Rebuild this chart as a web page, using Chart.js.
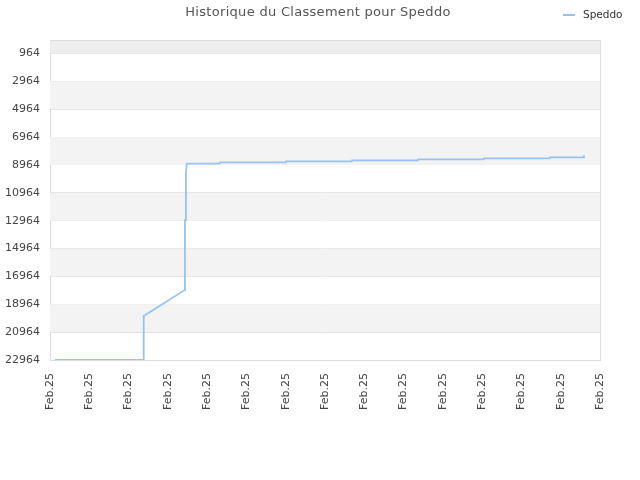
<!DOCTYPE html>
<html>
<head>
<meta charset="utf-8">
<title>Historique du Classement pour Speddo</title>
<script src="https://cdn.jsdelivr.net/npm/chart.js@4"></script>
<style>
  html, body { margin: 0; padding: 0; background: #fff; }
  #wrap { width: 640px; height: 480px; }
</style>
</head>
<body>
<div id="wrap"><canvas id="chartRank" width="640" height="480"></canvas></div>
<script>
// x tick labels (one per day slot)
var xLabels = ['Feb.25', 'Feb.25', 'Feb.25', 'Feb.25', 'Feb.25', 'Feb.25', 'Feb.25', 'Feb.25',
               'Feb.25', 'Feb.25', 'Feb.25', 'Feb.25', 'Feb.25', 'Feb.25', 'Feb.25'];
// y tick values (rank, reversed axis)
var yTicks = [964, 2964, 4964, 6964, 8964, 10964, 12964, 14964, 16964, 18964, 20964, 22964];
// series: position along the x slots, and rank
var seriesX = [0.13, 2.38, 2.385, 3.43, 3.435, 3.455, 3.46, 3.48, 4.32, 4.33, 6.0, 6.01,
               7.68, 7.69, 9.36, 9.37, 11.04, 11.05, 12.72, 12.73, 13.58, 13.59];
var seriesRank = [22964, 22964, 19810, 17947, 12930, 12930, 9560, 8871, 8871, 8777, 8777, 8706,
                  8706, 8634, 8634, 8563, 8563, 8491, 8491, 8419, 8419, 8276];
var seriesName = 'Speddo';
var lineColor = '#96c3f1';

var points = seriesX.map(function (x, i) { return { x: x, y: seriesRank[i] }; });

// alternating horizontal bands behind the line, frame, title and legend
var bandsPlugin = {
    id: 'bands',
    beforeDraw: function (chart) {
        var ctx = chart.ctx;
        ctx.save();
        ctx.fillStyle = '#ffffff';
        ctx.fillRect(0, 0, chart.width, chart.height);
        ctx.restore();
    },
    beforeDatasetsDraw: function (chart) {
        var ctx = chart.ctx, area = chart.chartArea, y = chart.scales.y;
        ctx.save();
        var firstPx = y.getPixelForValue(yTicks[0]);
        ctx.fillStyle = '#eeeeee';
        ctx.fillRect(area.left, area.top, area.right - area.left, firstPx - area.top);
        for (var k = 0; k < yTicks.length - 1; k++) {
            if (k % 2 === 1) {
                var a = y.getPixelForValue(yTicks[k]);
                var b = y.getPixelForValue(yTicks[k + 1]);
                ctx.fillStyle = '#f3f3f3';
                ctx.fillRect(area.left, a, area.right - area.left, b - a);
            }
        }
        ctx.restore();
    },
    afterDraw: function (chart) {
        var ctx = chart.ctx, area = chart.chartArea;
        ctx.save();
        // frame top/right
        ctx.strokeStyle = '#dddddd';
        ctx.lineWidth = 1;
        ctx.beginPath();
        ctx.moveTo(area.left, area.top + 0.5);
        ctx.lineTo(area.right + 0.5, area.top + 0.5);
        ctx.lineTo(area.right + 0.5, area.bottom);
        ctx.stroke();
        // title
        ctx.fillStyle = '#555555';
        ctx.font = '13px "DejaVu Sans"';
        ctx.letterSpacing = '0.3px';
        ctx.textAlign = 'center';
        ctx.textBaseline = 'middle';
        ctx.fillText('Historique du Classement pour Speddo', 318, 12.5);
        // legend
        ctx.letterSpacing = '0px';
        ctx.strokeStyle = lineColor;
        ctx.lineWidth = 2;
        ctx.beginPath();
        ctx.moveTo(563, 15);
        ctx.lineTo(575, 15);
        ctx.stroke();
        ctx.fillStyle = '#333333';
        ctx.font = '10.5px "DejaVu Sans"';
        ctx.textAlign = 'left';
        ctx.fillText(seriesName, 583, 15);
        ctx.restore();
    }
};

var ctx = document.getElementById('chartRank');
new Chart(ctx, {
    type: 'line',
    data: {
        datasets: [{
            label: seriesName,
            data: points,
            borderColor: lineColor,
            backgroundColor: lineColor,
            borderWidth: 1.8,
            pointRadius: 0,
            tension: 0,
            fill: false
        }]
    },
    options: {
        responsive: false,
        animation: false,
        layout: { padding: { top: 40, right: 40, left: 0, bottom: 0 } },
        plugins: {
            legend: { display: false },
            title: { display: false },
            tooltip: { enabled: false }
        },
        scales: {
            x: {
                type: 'linear',
                min: 0,
                max: xLabels.length - 1,
                afterFit: function (scale) { scale.height = 120; },
                afterBuildTicks: function (scale) {
                    scale.ticks = xLabels.map(function (l, i) { return { value: i }; });
                },
                ticks: {
                    autoSkip: false,
                    minRotation: 90,
                    maxRotation: 90,
                    padding: 5,
                    color: '#444444',
                    font: { family: 'DejaVu Sans', size: 11 },
                    callback: function (v) { return xLabels[v]; }
                },
                grid: { display: false },
                border: { color: '#dddddd' }
            },
            y: {
                type: 'linear',
                reverse: true,
                min: 1,
                max: 22964,
                afterFit: function (scale) { scale.width = 50; },
                afterBuildTicks: function (scale) {
                    scale.ticks = yTicks.map(function (v) { return { value: v }; });
                },
                ticks: {
                    padding: 10,
                    color: '#444444',
                    font: { family: 'DejaVu Sans', size: 11 },
                    callback: function (v) { return String(v); }
                },
                grid: { color: '#e2e2e2', drawTicks: false },
                border: { color: '#dddddd' }
            }
        }
    },
    plugins: [bandsPlugin]
});
</script>
</body>
</html>
